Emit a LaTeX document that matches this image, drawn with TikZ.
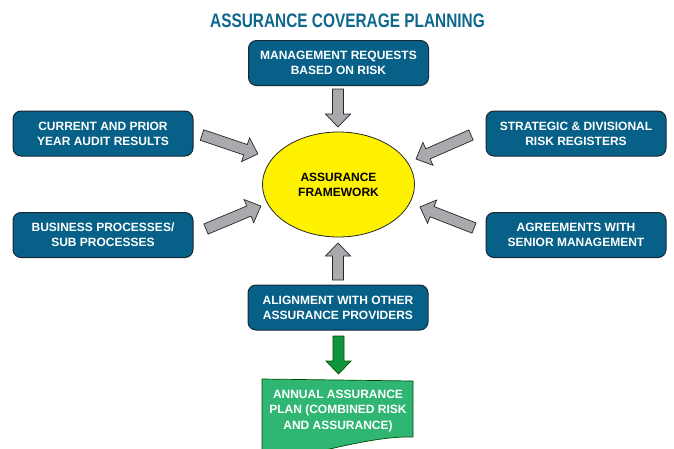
\documentclass[tikz,border=0pt]{standalone}
\usepackage{fontspec}
\setmainfont{Liberation Sans}
\usepackage{graphicx}
\usetikzlibrary{shapes.geometric}
\definecolor{boxblue}{RGB}{6,96,135}
\definecolor{boxedge}{RGB}{25,40,55}
\definecolor{titleblue}{RGB}{14,104,140}
\definecolor{arrowgray}{RGB}{168,170,173}
\definecolor{ellyellow}{RGB}{255,242,0}
\definecolor{greenarrow}{RGB}{14,150,60}
\definecolor{greendoc}{RGB}{46,182,114}
\tikzset{
  bluebox/.style={draw=boxedge, line width=1pt, fill=boxblue, rounded corners=8pt,
    minimum width=180pt, minimum height=45pt, text=white, align=center,
    font=\bfseries\fontsize{12}{15}\selectfont, inner sep=0pt},
  grayarrow/.style={draw=black!85, line width=0.7pt, fill=arrowgray, line join=miter},
  greenarr/.style={draw=black!70!green, line width=0.7pt, fill=greenarrow, line join=miter},
}
\newcommand\blockarr[4]{% style, shift, angle, length
  \begin{scope}[shift={#2}, rotate=#3]
    \draw[#1] (0,-5.5) -- (#4-13,-5.5) -- (#4-13,-12.5) -- (#4,0) -- (#4-13,12.5) -- (#4-13,5.5) -- (0,5.5) -- cycle;
  \end{scope}}
\begin{document}
\begin{tikzpicture}[x=1pt,y=-1pt]
\useasboundingbox (0,0) rectangle (674,448);
\node[text=titleblue, font=\bfseries\fontsize{19.5}{20}\selectfont] (title) at (347.5,21)
  {\scalebox{0.79}[1]{ASSURANCE COVERAGE PLANNING}};
\node[bluebox] (mgmt) at (338.5,63) {MANAGEMENT REQUESTS\\BASED ON RISK};
\node[bluebox] (audit) at (103,133.5) {CURRENT AND PRIOR\\YEAR AUDIT RESULTS};
\node[bluebox] (bus) at (103,235) {BUSINESS PROCESSES/\\SUB PROCESSES};
\node[bluebox] (strat) at (576,133.5) {STRATEGIC \& DIVISIONAL\\RISK REGISTERS};
\node[bluebox] (agree) at (576,235) {AGREEMENTS WITH\\SENIOR MANAGEMENT};
\node[bluebox] (align) at (338,307.5) {ALIGNMENT WITH OTHER\\ASSURANCE PROVIDERS};
\node[ellipse, draw=black!85, line width=0.8pt, fill=ellyellow, minimum width=152pt, minimum height=105pt,
  inner sep=0pt, align=center, font=\bfseries\fontsize{12}{15}\selectfont] (fw) at (338.5,184.5)
  {ASSURANCE\\FRAMEWORK};
% gray block arrows
\blockarr{grayarrow}{(338,89)}{-90}{38}
\blockarr{grayarrow}{(338,280)}{90}{37}
\blockarr{grayarrow}{(202,135)}{-18.7}{59}
\blockarr{grayarrow}{(206,229)}{22.7}{59.5}
\blockarr{grayarrow}{(471,135)}{-156.4}{60}
\blockarr{grayarrow}{(474,228)}{158.7}{58}
% green arrow
\blockarr{greenarr}{(338.5,336)}{-90}{38}
% document shape
\draw[draw=black!70!green, line width=0.7pt, fill=greendoc]
  (262,379) -- (413,381) -- (413,437) .. controls (385,436) and (345,445) .. (305,455)
  .. controls (290,459) and (275,460) .. (262,460) -- cycle;
\node[text=white, align=center, font=\bfseries\fontsize{12}{15.5}\selectfont] (plan) at (338,411)
  {ANNUAL ASSURANCE\\PLAN (COMBINED RISK\\AND ASSURANCE)};
\end{tikzpicture}
\end{document}
